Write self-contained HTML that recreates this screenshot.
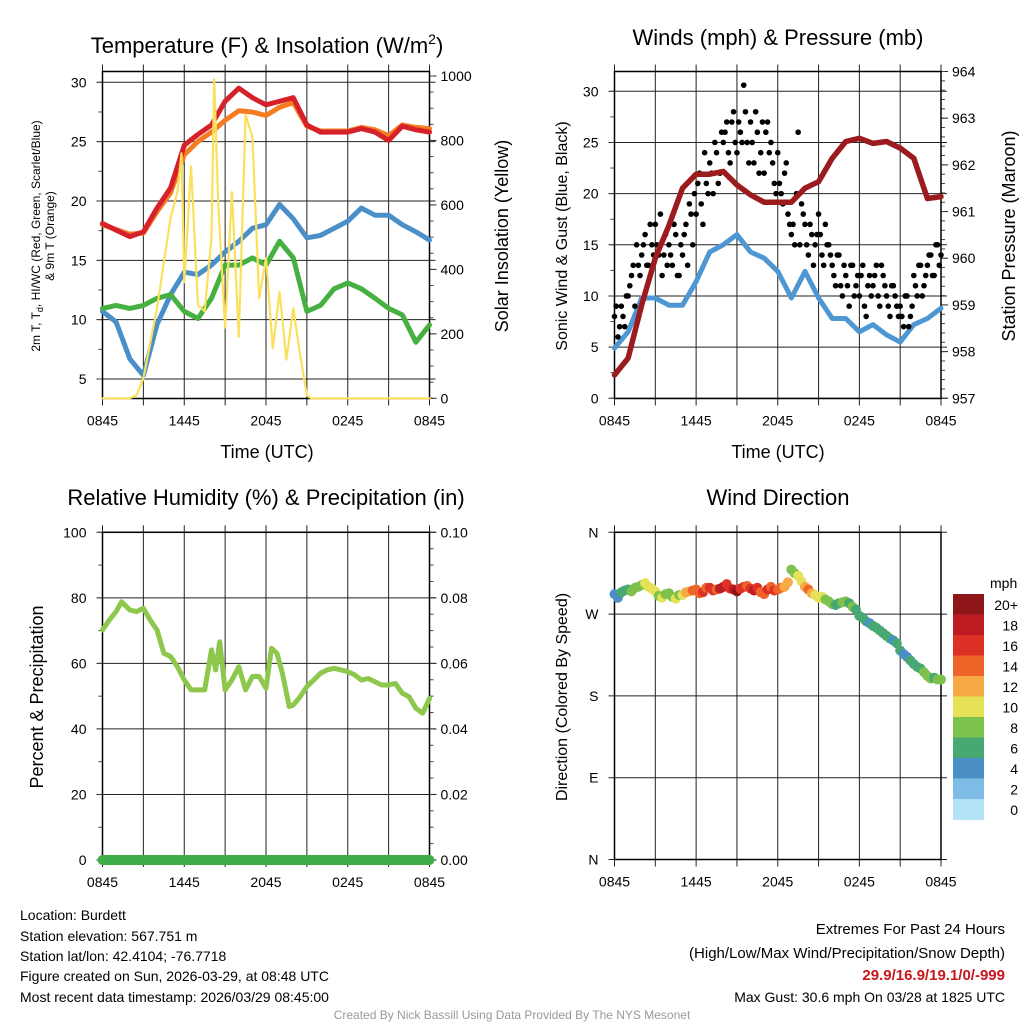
<!DOCTYPE html>
<html><head><meta charset="utf-8"><style>
html,body{margin:0;padding:0;background:#fff;}
svg{display:block;font-family:"Liberation Sans",Arial,sans-serif;}
</style></head><body>
<svg id="s" width="1024" height="1024" viewBox="0 0 1024 1024">
<g id="g"></g>
<text x="267" y="53" font-size="22" text-anchor="middle">Temperature (F) &amp; Insolation (W/m<tspan font-size="14" dy="-9">2</tspan><tspan dy="9">)</tspan></text>
<text x="778" y="45" font-size="22" text-anchor="middle">Winds (mph) &amp; Pressure (mb)</text>
<text x="266" y="505" font-size="22" text-anchor="middle">Relative Humidity (%) &amp; Precipitation (in)</text>
<text x="778" y="505" font-size="22" text-anchor="middle">Wind Direction</text>
<text x="267" y="458" font-size="18" text-anchor="middle">Time (UTC)</text>
<text x="778" y="458" font-size="18" text-anchor="middle">Time (UTC)</text>
<text transform="translate(40,236) rotate(-90)" font-size="12" text-anchor="middle">2m T, T<tspan font-size="9" dy="3">d</tspan><tspan dy="-3">, HI/WC (Red, Green, Scarlet/Blue)</tspan></text>
<text transform="translate(54,236) rotate(-90)" font-size="12" text-anchor="middle">&amp; 9m T (Orange)</text>
<text transform="translate(508,236) rotate(-90)" font-size="18" text-anchor="middle">Solar Insolation (Yellow)</text>
<text transform="translate(567,236) rotate(-90)" font-size="16" text-anchor="middle">Sonic Wind &amp; Gust (Blue, Black)</text>
<text transform="translate(1015,236) rotate(-90)" font-size="18" text-anchor="middle">Station Pressure (Maroon)</text>
<text transform="translate(43,697) rotate(-90)" font-size="18" text-anchor="middle">Percent &amp; Precipitation</text>
<text transform="translate(567,697) rotate(-90)" font-size="16" text-anchor="middle">Direction (Colored By Speed)</text>
<g font-size="14">
<text x="20" y="920">Location: Burdett</text>
<text x="20" y="941">Station elevation: 567.751 m</text>
<text x="20" y="961">Station lat/lon: 42.4104; -76.7718</text>
<text x="20" y="981">Figure created on Sun, 2026-03-29, at 08:48 UTC</text>
<text x="20" y="1002">Most recent data timestamp: 2026/03/29 08:45:00</text>
</g>
<g font-size="15" text-anchor="end">
<text x="1005" y="934">Extremes For Past 24 Hours</text>
<text x="1005" y="958">(High/Low/Max Wind/Precipitation/Snow Depth)</text>
<text x="1005" y="980" fill="#c8161d" font-weight="bold">29.9/16.9/19.1/0/-999</text>
<text x="1005" y="1002" font-size="14">Max Gust: 30.6 mph On 03/28 at 1825 UTC</text>
</g>
<text x="512" y="1019" font-size="12" fill="#999" text-anchor="middle">Created By Nick Bassill Using Data Provided By The NYS Mesonet</text>
</svg>
<script>
// ---- data (hours since 0845 UTC) ----
const hourTicks = [0,6,12,18,24];
const hourTickLabels = ["0845","1445","2045","0245","0845"];
const tempRed = [18.1,17.55,17.0,17.4,19.4,21.1,24.7,25.6,26.4,28.4,29.5,28.7,28.1,28.4,28.7,26.4,25.8,25.8,25.8,26.1,25.8,25.1,26.3,26.0,25.8];
const tempOrange = [18.0,17.6,17.2,17.3,19.1,20.7,23.9,25.0,25.8,26.8,27.6,27.5,27.2,27.9,28.3,26.3,25.9,25.9,25.9,26.2,26.0,25.5,26.4,26.2,26.1];
const tempBlue = [10.7,9.8,6.7,5.3,9.6,12.1,14.0,13.8,14.6,15.7,16.6,17.7,18.0,19.7,18.5,16.9,17.1,17.7,18.3,19.4,18.8,18.8,18.0,17.4,16.7];
const tempGreen = [10.95,11.2,10.95,11.2,11.8,12.1,10.7,10.1,11.8,14.6,14.6,15.2,14.6,16.6,15.2,10.7,11.2,12.6,13.1,12.6,11.8,10.95,10.4,8.1,9.55];
const solarHours = [0,2,2.5,3,4,5,5.5,5.8,6,6.5,7,7.5,8,8.2,8.5,9,9.5,10,10.5,11,11.5,12,12.5,13,13.5,14,14.5,15,15.3,24];
const solarValues = [0,0,10,62,280,560,640,760,360,720,290,270,500,990,600,220,640,190,880,810,310,435,155,330,120,280,135,10,0,0];
const windHours = [0,1,2,3,4,5,6,7,8,9,10,11,12,13,14,15,16,17,18,19,20,21,22,23,24];
const sonicWind = [4.9,6.5,9.8,9.8,9.1,9.1,11.4,14.3,15.0,16.0,14.3,13.7,12.4,9.8,12.4,9.8,7.8,7.8,6.5,7.2,6.2,5.5,7.2,7.8,8.8];
const pressure = [957.5,957.86,959.0,960.0,960.7,961.5,961.8,961.8,961.86,961.57,961.36,961.2,961.2,961.2,961.5,961.64,962.14,962.5,962.57,962.46,962.5,962.36,962.14,961.28,961.32];
const gustA = [8,6,9,7,10,12,9,13,14,16,13,15,17,14,12,16,15,13,16,12,14,17,19,15,18,22,17,21,23,20,24,22,25,27,23,28,24,26,30.6,25,27,23,26,24,22,27,25,21,24,20,22,18,16,15,26,19,17,14,16,15,18,14,17,15,13,11,14,10,12,9,13,11,10,13,8,12,11,13,9,12,10,8,11,9,9,7,10,8,12,10,13,11,13,14,12,15,14];
const gustB = [9,7,8,10,11,13,15,12,15,13,17,14,15,18,14,13,14,17,12,15,16,13,18,20,21,19,24,20,22,25,21,26,26,24,27,25,27,25,28,23,25,28,22,27,26,24,23,20,21,19,23,17,17,20,15,18,15,17,13,16,16,13,15,14,12,14,11,13,11,13,10,12,12,9,11,10,12,10,13,11,9,11,10,8,8,10,7,9,11,13,10,12,14,12,15,13];
const rhHours = [0,0.5,1,1.4,2,2.5,3,3.5,4,4.5,5,5.5,6,6.5,7,7.5,8,8.3,8.6,9,9.5,10,10.5,11,11.5,12,12.4,12.8,13.2,13.7,14,14.5,15,15.5,16,16.5,17,17.5,18,18.5,19,19.5,20,20.5,21,21.5,22,22.5,23,23.5,24];
const rhValues = [70.2,73.2,75.8,78.8,76.3,75.8,76.8,73.2,70.2,63.1,62.1,59.0,54.9,51.9,51.9,51.9,64.1,58.0,66.6,51.9,54.9,59.0,51.9,56.0,56.0,52.4,64.6,63.1,57.0,46.8,47.3,49.8,52.9,54.9,57.0,58.0,58.5,58.0,57.5,56.5,54.9,55.4,54.4,53.4,53.4,53.9,50.9,49.8,46.3,44.8,49.3];
const precipHours = [0,24];
const precipValues = [0,0];
const dirValues = [292,288,294,296,297,295,299,300,302,304,300,298,295,290,288,292,293,289,287,291,291,294,295,296,297,293,294,299,299,296,297,298,300,303,298,297,295,298,300,301,298,296,299,294,292,297,300,296,297,299,300,305,319,315,312,306,300,297,293,291,288,289,286,284,281,280,282,283,284,282,278,275,268,266,262,260,257,255,252,249,246,243,241,238,230,226,223,219,215,212,210,206,202,199,200,198,198];
const dirSpeed = [4,5,7,6,7,8,8,9,9,10,10,11,10,9,10,8,8,9,10,8,10,12,13,14,14,15,16,15,16,17,15,18,19,17,16,18,20,17,16,15,17,18,16,15,14,16,15,17,15,14,13,12,8,9,10,11,13,14,12,11,10,10,9,8,8,7,7,8,8,7,8,7,6,6,7,5,6,7,6,6,6,6,5,7,6,4,5,6,6,7,7,8,8,8,7,8,8];
const speedBinLabels = ["0","2","4","6","8","10","12","14","16","18","20+"];
const speedBinColors = ["#b4e3f8","#80bde6","#4a8fc6","#48a872","#7dc24a","#e6e258","#f6a945","#ef6429","#dd3127","#bd1c23","#8e1619"];
const dirTicks = [0,90,180,270,360];
const dirTickLabels = ["N","E","S","W","N"];

// ---- helpers ----
const NS="http://www.w3.org/2000/svg";
const G=document.getElementById('g');
function mk(t,a,p){const e=document.createElementNS(NS,t);for(const k in a)e.setAttribute(k,a[k]);(p||G).appendChild(e);return e;}
function lin(d0,d1,r0,r1){return v=>r0+(v-d0)*(r1-r0)/(d1-d0);}

function frame(name,x0,x1,y0,y1,xs,left,right){
  const g=mk('g',{});
  
  
  for(let h=0;h<=24;h+=3){const x=xs(h);
    const l=mk('line',{x1:x,x2:x,y1:y0-7,y2:y1+7,stroke:'#222','stroke-width':1},g);
    }
  hourTicks.forEach((h,i)=>{const t=mk('text',{x:xs(h),y:y1+27,'font-size':14,'text-anchor':'middle'},g);t.textContent=hourTickLabels[i];
    });
  left.ticks.forEach((v,i)=>{const y=left.s(v);
    const l=mk('line',{x1:x0-6,x2:x1+(left.grid?6:0),y1:y,y2:y,stroke:'#222','stroke-width':1},g);
    
    const t=mk('text',{x:x0-16,y:y+5,'font-size':14,'text-anchor':'end'},g);t.textContent=left.labels[i];
    });
  (left.minor||[]).forEach(v=>mk('line',{x1:x0-4,x2:x0,y1:left.s(v),y2:left.s(v),stroke:'#444'},g));
  if(right){
    right.ticks.forEach((v,i)=>{const y=right.s(v);
      mk('line',{x1:x1,x2:x1+7,y1:y,y2:y,stroke:'#222'},g);
      const t=mk('text',{x:x1+11,y:y+5,'font-size':14},g);t.textContent=right.labels[i];
      });
    (right.minor||[]).forEach(v=>mk('line',{x1:x1,x2:x1+4,y1:right.s(v),y2:right.s(v),stroke:'#444'},g));
  }
  mk('rect',{x:x0,y:y0,width:x1-x0,height:y1-y0,fill:'none',stroke:'#000','stroke-width':1.5},g);
}
function range(a,b,s){const r=[];for(let v=a;v<=b+1e-9;v+=s)r.push(+v.toFixed(4));return r;}
function line(name,xsArr,ysArr,xs,ys,color,w){
  const d=xsArr.map((h,i)=>(i?'L':'M')+xs(h).toFixed(1)+','+ys(ysArr[i]).toFixed(1)).join('');
  const p=mk('path',{d:d,fill:'none',stroke:color,'stroke-width':w,'stroke-linejoin':'round','stroke-linecap':'round'});
  
  
}

// ---- panel 1 ----
const P1={x0:102.5,x1:429.5,y0:71.5,y1:398.5};
const x1s=lin(0,24,P1.x0,P1.x1);
const tY=lin(30,5,82.3,379.0);
const sY=lin(0,1000,398.3,76);
frame('temp',P1.x0,P1.x1,P1.y0,P1.y1,x1s,
 {s:tY,ticks:[5,10,15,20,25,30],labels:["5","10","15","20","25","30"],grid:true,minor:range(5,30,2.5)},
 {s:sY,ticks:[0,200,400,600,800,1000],labels:["0","200","400","600","800","1000"],minor:range(0,1000,50)});
line('dewpoint-line',windHours,tempBlue,x1s,tY,'#4a8fc8',5);
line('green-line',windHours,tempGreen,x1s,tY,'#46b040',5);
line('temp-9m-orange-line',windHours,tempOrange,x1s,tY,'#f47c22',5);
line('temp-2m-red-line',windHours,tempRed,x1s,tY,'#d7212a',5);
line('solar-line',solarHours,solarValues,x1s,sY,'#fbe05c',2.2);

// ---- panel 2 ----
const P2={x0:614.5,x1:941,y0:71.5,y1:398.5};
const x2s=lin(0,24,P2.x0,P2.x1);
const wY=lin(0,30,398.3,91.3);
const pY=lin(957,964,398.3,71.5);
frame('wind',P2.x0,P2.x1,P2.y0,P2.y1,x2s,
 {s:wY,ticks:[0,5,10,15,20,25,30],labels:["0","5","10","15","20","25","30"],grid:true,minor:range(0,30,2.5)},
 {s:pY,ticks:[957,958,959,960,961,962,963,964],labels:["957","958","959","960","961","962","963","964"],minor:range(957,964,0.2)});
line('sonic-wind-line',windHours,sonicWind,x2s,wY,'#4f97d3',5);
gustA.forEach((v,i)=>{const c=mk('circle',{cx:x2s(i*0.25),cy:wY(v),r:2.8,fill:'#000'});
  });
gustB.forEach((v,i)=>{const c=mk('circle',{cx:x2s(i*0.25+0.125),cy:wY(v),r:2.8,fill:'#000'});
  });
line('pressure-line',windHours,pressure,x2s,pY,'#9b1b1e',5.5);

// ---- panel 3 ----
const P3={x0:102.5,x1:429.5,y0:532.3,y1:860};
const rY=lin(0,100,860,532.3);
const prY=lin(0,0.1,860,532.3);
frame('rh',P3.x0,P3.x1,P3.y0,P3.y1,x1s,
 {s:rY,ticks:[0,20,40,60,80,100],labels:["0","20","40","60","80","100"],grid:true,minor:range(0,100,10)},
 {s:prY,ticks:[0,0.02,0.04,0.06,0.08,0.1],labels:["0.00","0.02","0.04","0.06","0.08","0.10"],minor:range(0,0.1,0.005)});
line('rh-line',rhHours,rhValues,x1s,rY,'#8dc84d',5);
line('precip-line',precipHours,precipValues,x1s,prY,'#3fae49',10);

// ---- panel 4 ----
const P4={x0:614.5,x1:941,y0:532.3,y1:859.5};
const dY=lin(0,360,859.5,532.3);
frame('dir',P4.x0,P4.x1,P4.y0,P4.y1,x2s,
 {s:dY,ticks:dirTicks,labels:dirTickLabels,grid:true},null);
function binColor(v){let b=Math.floor(v/2);if(b>10)b=10;if(b<0)b=0;return speedBinColors[b];}
dirValues.forEach((v,i)=>{const c=mk('circle',{cx:x2s(i*0.25),cy:dY(v),r:5,fill:binColor(dirSpeed[i])});
  });
const cb=mk('g',{});


const cbTop=594,cbH=20.5;
const mt=mk('text',{x:990,y:588,'font-size':14},cb);mt.textContent='mph';
for(let i=0;i<11;i++){const k=10-i;
  const r=mk('rect',{x:953,y:cbTop+i*cbH,width:31,height:cbH+0.5,fill:speedBinColors[k]},cb);
  
  const t=mk('text',{x:1018,y:cbTop+i*cbH+16,'font-size':14,'text-anchor':'end'},cb);t.textContent=speedBinLabels[k];
  }
</script>
</body></html>
